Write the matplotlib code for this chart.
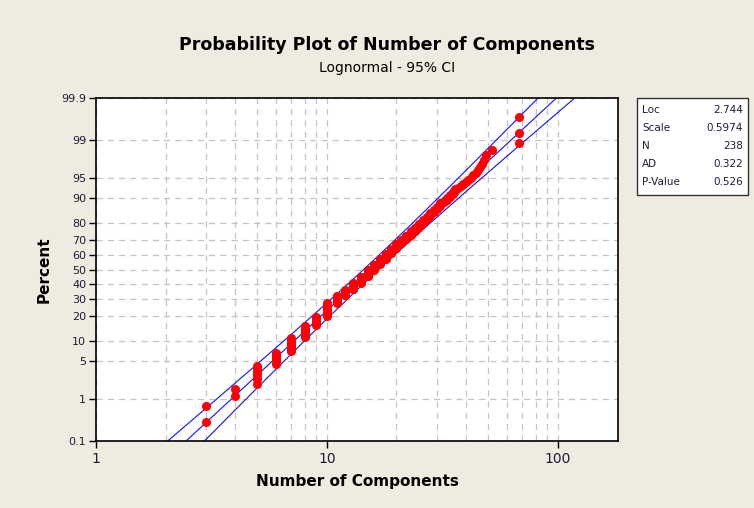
import numpy as np
import matplotlib
matplotlib.use('Agg')
import matplotlib.pyplot as plt
from matplotlib.patches import Rectangle
from statistics import NormalDist

# ---- data ----
values = [3, 4, 5, 6, 7, 8, 9, 10, 11, 12, 13, 14, 15, 16, 17, 18, 19, 20,
          21, 22, 23, 24, 25, 26, 27, 28, 29, 30, 31, 32, 33, 34, 35, 36,
          37, 38, 39, 40, 41, 42, 43, 44, 45, 46, 47, 48, 49, 52, 68]
counts = [2, 2, 6, 6, 10, 11, 10, 18, 11, 9, 11, 11, 11, 10, 9, 9, 8, 8,
          6, 6, 6, 5, 5, 4, 4, 4, 3, 3, 3, 2, 2, 2, 2, 2,
          1, 1, 1, 1, 1, 1, 1, 1, 1, 1, 1, 1, 1, 1, 3]
loc_param = 2.744
scale_param = 0.5974
stats_labels = ['Loc', 'Scale', 'N', 'AD', 'P-Value']
stats_values = ['2.744', '0.5974', '238', '0.322', '0.526']
y_ticks = [0.1, 1, 5, 10, 20, 30, 40, 50, 60, 70, 80, 90, 95, 99, 99.9]
y_ticklabels = ['0.1', '1', '5', '10', '20', '30', '40', '50', '60', '70',
                '80', '90', '95', '99', '99.9']
x_ticks = [1, 10, 100]
x_ticklabels = ['1', '10', '100']

BG = '#EFEBE1'
TXT = '#1c1c38'

_nd = NormalDist()
_ppf = np.vectorize(_nd.inv_cdf, otypes=[float])
_cdf = np.vectorize(_nd.cdf, otypes=[float])


def fwd(p):
    p = np.clip(np.asarray(p, dtype=float) / 100.0, 1e-9, 1 - 1e-9)
    return _ppf(p)


def inv(z):
    return _cdf(np.asarray(z, dtype=float)) * 100.0


obs = np.repeat(values, counts)
n = len(obs)
ranks = np.arange(1, n + 1)
pct = (ranks - 0.3) / (n + 0.4) * 100.0

# fitted line and 95% CI
zz = np.linspace(-3.6, 3.6, 300)
pp = inv(zz)
se = scale_param * np.sqrt(1.0 / n + zz ** 2 / (2.0 * n))
x_fit = np.exp(loc_param + zz * scale_param)
x_lo = np.exp(loc_param + zz * scale_param - 1.96 * se)
x_hi = np.exp(loc_param + zz * scale_param + 1.96 * se)

fig = plt.figure(figsize=(7.54, 5.08), dpi=100, facecolor=BG)
ax = fig.add_axes([96 / 754, 1 - 441 / 508, (618 - 96) / 754, (441 - 98) / 508])
ax.set_facecolor('white')
ax.set_xscale('log')
ax.set_yscale('function', functions=(fwd, inv))
ax.set_xlim(1, 182)
ax.set_ylim(0.1, 99.9)

ax.set_xticks(x_ticks)
ax.set_xticklabels(x_ticklabels)
ax.set_xticks([2, 3, 4, 5, 6, 7, 8, 9, 20, 30, 40, 50, 60, 70, 80, 90], minor=True)
ax.xaxis.set_minor_formatter(matplotlib.ticker.NullFormatter())
ax.set_yticks(y_ticks)
ax.set_yticklabels(y_ticklabels)
ax.yaxis.set_minor_locator(matplotlib.ticker.NullLocator())

grid_kw = dict(color='#C4C4C4', linestyle=(0, (5, 4)), linewidth=0.9)
ax.grid(True, which='major', axis='both', **grid_kw)
ax.grid(True, which='minor', axis='x', **grid_kw)
ax.set_axisbelow(True)

ax.tick_params(axis='x', which='major', direction='out', length=5, width=1,
               labelsize=10, colors='black', labelcolor=TXT, pad=3)
ax.tick_params(axis='x', which='minor', length=0)
ax.tick_params(axis='y', which='major', direction='out', length=5, width=1,
               labelsize=8, colors='black', labelcolor=TXT, pad=2)
for s in ax.spines.values():
    s.set_linewidth(1.2)
    s.set_color('black')

ax.plot(x_fit, pp, color='#1010FF', linewidth=0.8)
ax.plot(x_lo, pp, color='#1010FF', linewidth=0.8)
ax.plot(x_hi, pp, color='#1010FF', linewidth=0.8)
ax.plot(obs, pct, 'o', color='#FF0000', markersize=6.5, markeredgewidth=0, zorder=5)

ax.set_xlabel('Number of Components', fontsize=11, fontweight='bold', color='black', labelpad=6)
ax.set_ylabel('Percent', fontsize=11, fontweight='bold', color='black', labelpad=7)

fig.text(387 / 754, 1 - 45 / 508, 'Probability Plot of Number of Components',
         ha='center', va='center', fontsize=12.5, fontweight='bold', color='black')
fig.text(387 / 754, 1 - 68 / 508, 'Lognormal - 95% CI',
         ha='center', va='center', fontsize=10, color='black')

# stats box
bx0, bx1, by0, by1 = 637 / 754, 748 / 754, 1 - 195 / 508, 1 - 98 / 508
fig.patches.append(Rectangle((bx0, by0), bx1 - bx0, by1 - by0, transform=fig.transFigure,
                             facecolor='white', edgecolor='#333333', linewidth=1.0))
for i, (lab, val) in enumerate(zip(stats_labels, stats_values)):
    yy = 1 - (110 + 18 * i) / 508
    fig.text(642 / 754, yy, lab, ha='left', va='center', fontsize=7.5, color=TXT)
    fig.text(743 / 754, yy, val, ha='right', va='center', fontsize=7.5, color=TXT)

fig.savefig('out.png', dpi=100, facecolor=BG)
